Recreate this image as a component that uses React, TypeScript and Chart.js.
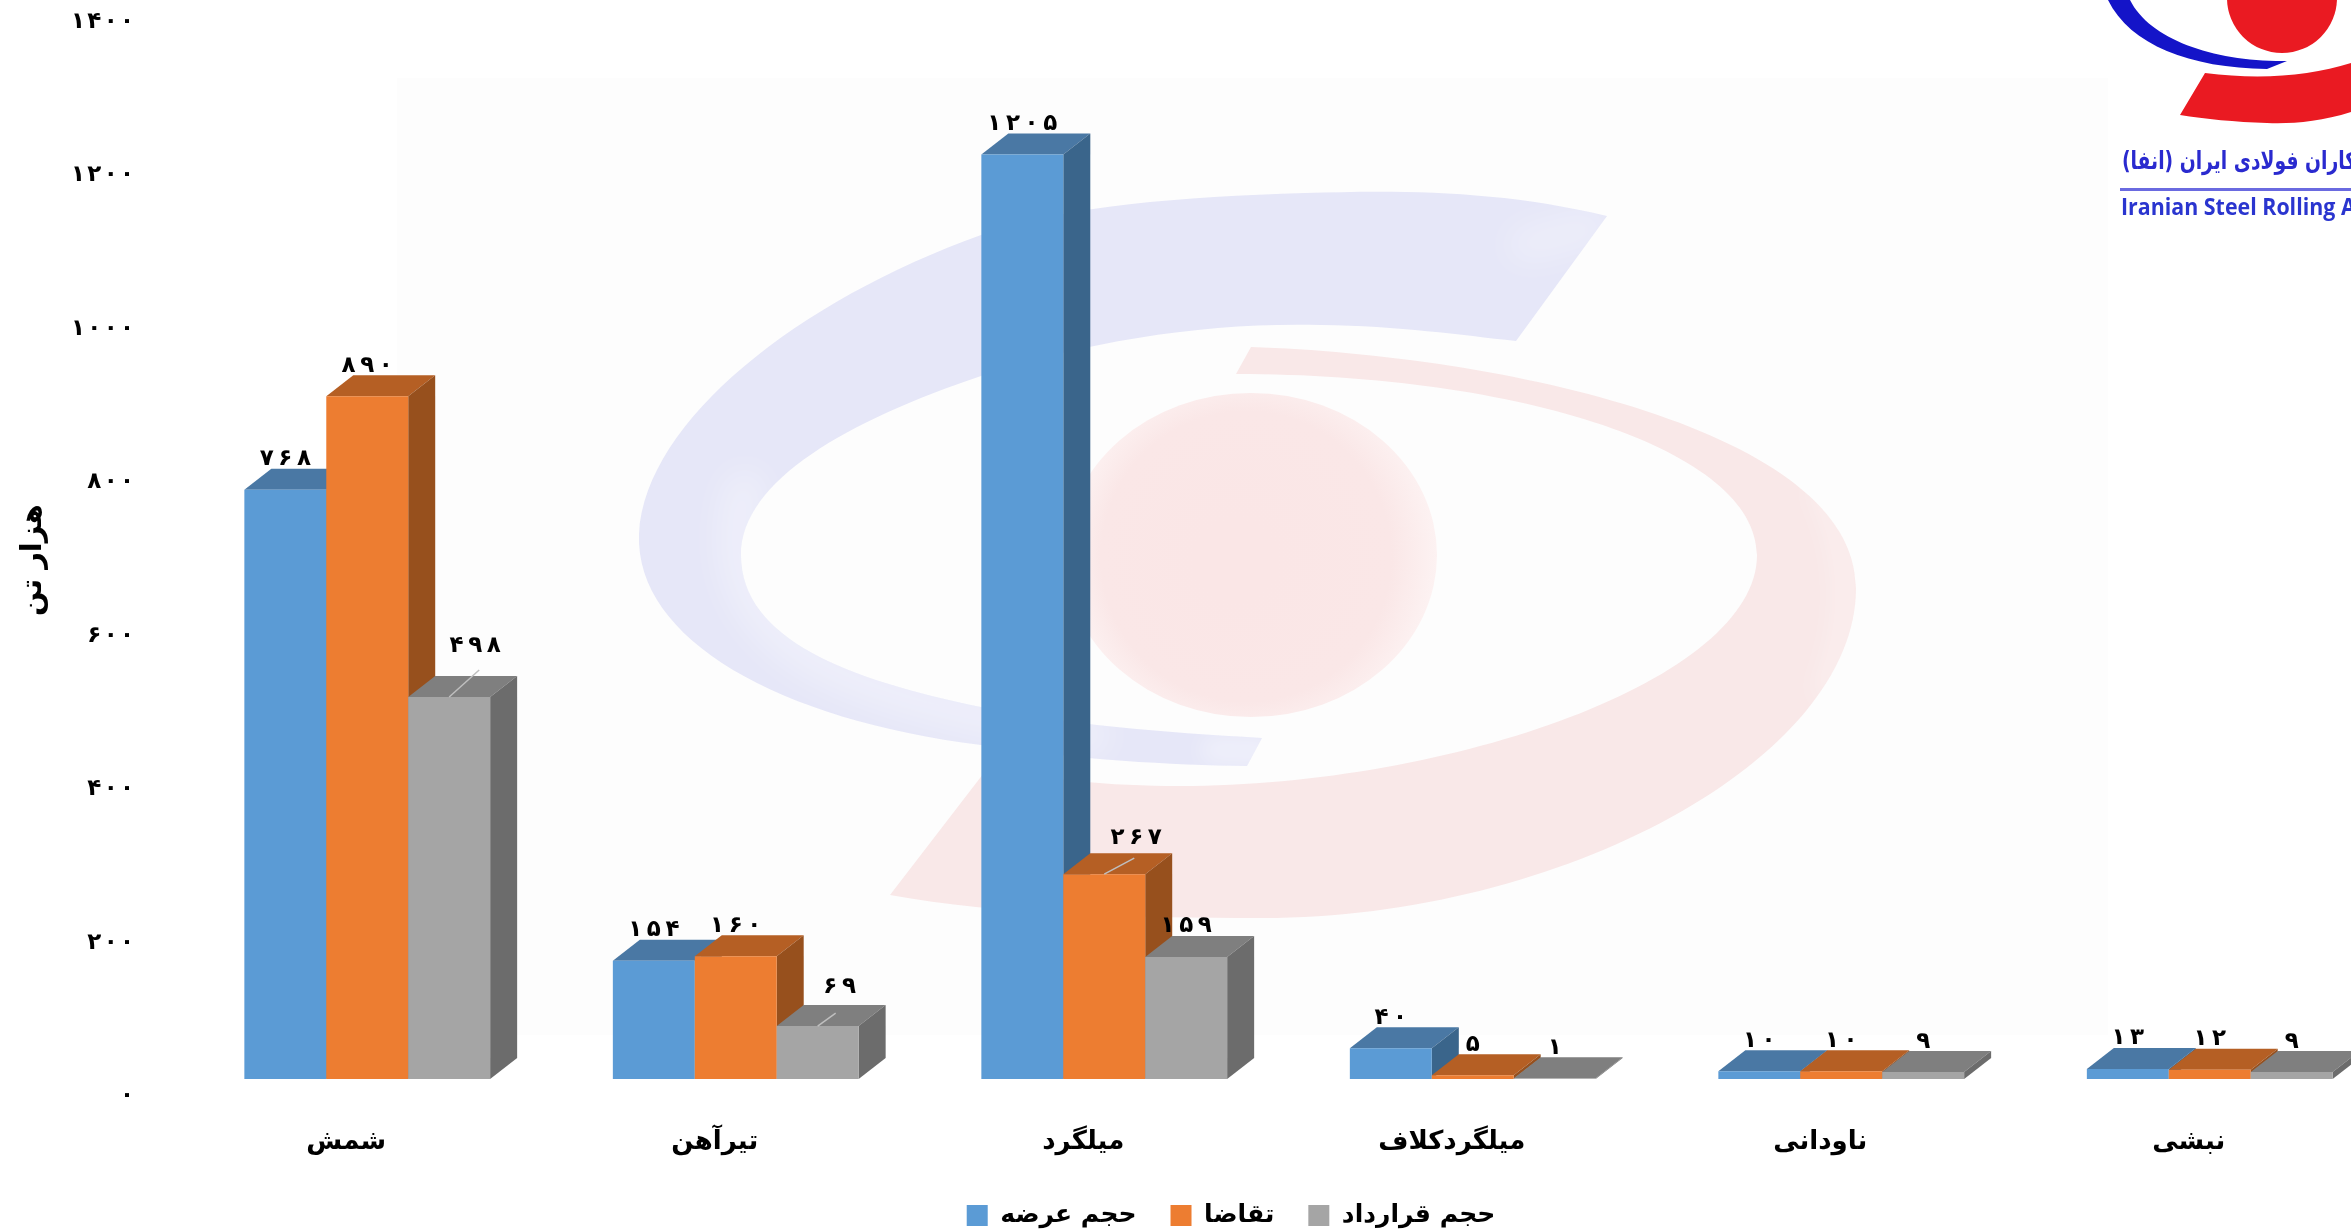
import React, { useEffect, useRef } from "react";
import { Chart, registerables } from "chart.js";

Chart.register(...registerables);

const categories = ["شمش", "تیرآهن", "میلگرد", "میلگردکلاف", "ناودانی", "نبشی"];
const supplyValues = [768, 154, 1205, 40, 10, 13];
const demandValues = [890, 160, 267, 5, 10, 12];
const contractValues = [498, 69, 159, 1, 9, 9];
const seriesNames = ["حجم عرضه", "تقاضا", "حجم قرارداد"];
const yTicks = [0, 200, 400, 600, 800, 1000, 1200, 1400];
const yTitle = "هزار تن";

const frontColors = ["#5B9BD5", "#ED7D31", "#A5A5A5"];
const topColors = ["#4A78A4", "#B55F24", "#7F7F7F"];
const sideColors = ["#3A658B", "#97501D", "#6C6C6C"];

const DEPTH_X = 27;
const DEPTH_Y = 21;
const FONT = '"DejaVu Sans"';

// Labels pulled away from their bar, joined to it by a thin leader line: [series, category, labelDx, labelDy, lineDx, lineDy]
const leaderLabels = [
  [2, 0, 26, -20, 30, -27],
  [2, 1, 22, -9, 18, -13],
  [1, 2, 32, -6, 30, -16],
];

// Persian digits, spaced apart the way the reference sets them (canvas letterSpacing is ignored for this script).
const toFa = (n: number | string, gap: string) =>
  String(n)
    .replace(/\d/g, (d) => "۰۱۲۳۴۵۶۷۸۹"[Number(d)])
    .split("")
    .join(gap);

function poly(ctx: CanvasRenderingContext2D, pts: number[][], color: string) {
  ctx.fillStyle = color;
  ctx.beginPath();
  pts.forEach(([x, y], i) => (i ? ctx.lineTo(x, y) : ctx.moveTo(x, y)));
  ctx.closePath();
  ctx.fill();
}

function highlight(ctx: CanvasRenderingContext2D, clip: Path2D, d: string, width: number, blur: number, alpha: number) {
  ctx.save();
  ctx.clip(clip);
  ctx.filter = `blur(${blur}px)`;
  ctx.strokeStyle = `rgba(255,255,255,${alpha})`;
  ctx.lineWidth = width;
  ctx.lineCap = "round";
  ctx.stroke(new Path2D(d));
  ctx.restore();
}

function drawWatermark(ctx: CanvasRenderingContext2D) {
  ctx.save();
  ctx.fillStyle = "#FDFDFD";
  ctx.fillRect(397, 78, 1711, 957);

  const blue = new Path2D(
    "M1607,216 C1500,190 1400,190 1305,193 C1180,197 1070,205 981,235 C800,300 645,420 639,534 C635,640 780,720 981,745 C1080,760 1170,765 1247,766 L1262,738 C1160,732 1070,725 981,707 C850,680 741,640 741,555 C741,480 850,420 981,376 C1090,340 1210,322 1321,325 C1400,326 1460,335 1516,341 Z"
  );
  ctx.fillStyle = "#E6E7F8";
  ctx.fill(blue);
  highlight(ctx, blue, "M745,490 C725,560 745,610 800,650 C860,690 960,715 1090,735", 40, 16, 0.35);
  highlight(ctx, blue, "M1262,752 L1215,750", 30, 10, 0.35);
  highlight(ctx, blue, "M1590,228 L1525,245", 36, 16, 0.3);

  const red = new Path2D(
    "M1251,347 C1500,355 1856,430 1856,588 C1856,760 1560,918 1263,918 C1130,918 1000,915 890,895 L990,765 C1040,780 1110,786 1180,786 C1450,786 1757,680 1757,555 C1757,450 1520,374 1236,374 Z"
  );
  ctx.fillStyle = "#F9E8E8";
  ctx.fill(red);
  highlight(ctx, red, "M1820,490 C1850,550 1855,620 1825,690", 24, 12, 0.3);

  const g = ctx.createRadialGradient(1235, 560, 40, 1251, 555, 190);
  g.addColorStop(0, "#FAE6E6");
  g.addColorStop(0.7, "#FAE7E7");
  g.addColorStop(1, "#FDF3F3");
  ctx.fillStyle = g;
  ctx.beginPath();
  ctx.ellipse(1251, 555, 186, 162, 0, 0, Math.PI * 2);
  ctx.fill();
  ctx.restore();
}

function drawLogo(ctx: CanvasRenderingContext2D) {
  ctx.save();
  ctx.fillStyle = "#1414C8";
  ctx.fill(new Path2D("M2108,0 C2130,45 2190,68 2267,69 L2287,61 C2215,62 2150,40 2130,0 Z"));
  ctx.fillStyle = "#EA1A22";
  ctx.beginPath();
  ctx.ellipse(2282, -2, 55, 55, 0, 0, Math.PI * 2);
  ctx.fill();
  ctx.fill(new Path2D("M2205,73 C2260,80 2310,76 2351,63 L2351,112 C2320,122 2290,124 2267,123 C2235,122 2205,119 2180,115 Z"));
  ctx.fillStyle = "#2A2ACF";
  ctx.textBaseline = "middle";
  ctx.textAlign = "left";
  ctx.save();
  ctx.font = `bold 25px ${FONT}`;
  ctx.translate(2122, 162);
  ctx.scale(0.75, 1);
  ctx.direction = "rtl";
  ctx.fillText("انجمن نوردکاران فولادی ایران (انفا)", 0, 0);
  ctx.restore();
  ctx.fillStyle = "#6A6AE0";
  ctx.fillRect(2120, 188, 300, 3);
  ctx.fillStyle = "#2A35CF";
  ctx.translate(2121, 208);
  ctx.scale(0.93, 1);
  ctx.font = 'bold 23px "Open Sans"';
  ctx.fillText("Iranian Steel Rolling Association", 0, 0);
  ctx.restore();
}

const bars3d = {
  id: "bars3d",
  beforeDraw(chart: any) {
    drawWatermark(chart.ctx);
    drawLogo(chart.ctx);
  },
  beforeDatasetDraw() {
    return false;
  },
  afterDatasetsDraw(chart: any) {
    const ctx = chart.ctx as CanvasRenderingContext2D;
    const n = chart.data.datasets.length;
    for (let s = 0; s < n; s++) {
      const meta = chart.getDatasetMeta(s);
      meta.data.forEach((b: any) => {
        const l = b.x - b.width / 2;
        const r = b.x + b.width / 2;
        poly(ctx, [[l, b.y], [l + DEPTH_X, b.y - DEPTH_Y], [r + DEPTH_X, b.y - DEPTH_Y], [r, b.y]], topColors[s]);
        poly(ctx, [[r, b.y], [r + DEPTH_X, b.y - DEPTH_Y], [r + DEPTH_X, b.base - DEPTH_Y], [r, b.base]], sideColors[s]);
      });
      meta.controller.draw();
    }
    ctx.save();
    ctx.font = `bold 23px ${FONT}`;
    ctx.textAlign = "center";
    ctx.textBaseline = "middle";
    for (let s = 0; s < n; s++) {
      const meta = chart.getDatasetMeta(s);
      meta.data.forEach((b: any, c: number) => {
        const lead = leaderLabels.find((q) => q[0] === s && q[1] === c);
        if (lead) {
          ctx.strokeStyle = "#BFBFBF";
          ctx.lineWidth = 1.5;
          ctx.beginPath();
          ctx.moveTo(b.x, b.y);
          ctx.lineTo(b.x + lead[4], b.y + lead[5]);
          ctx.stroke();
        }
        ctx.fillStyle = "#000";
        ctx.fillText(
          toFa(chart.data.datasets[s].data[c], "\u2009"),
          b.x + (lead ? lead[2] : 0),
          b.y - 30.5 + (lead ? lead[3] : 0)
        );
      });
    }
    ctx.restore();
  },
};

function wrapY(scale: any) {
  if (scale.__wrapped) return;
  scale.__wrapped = true;
  const title = scale.drawTitle.bind(scale);
  scale.drawTitle = (a: any) => {
    const ctx = scale.ctx;
    ctx.save();
    ctx.translate(-68, 18);
    title(a);
    ctx.restore();
  };
}

export default function App() {
  const ref = useRef<HTMLCanvasElement>(null);
  useEffect(() => {
    const values = [supplyValues, demandValues, contractValues];
    const chart = new Chart(ref.current!, {
      type: "bar",
      data: {
        labels: categories,
        datasets: seriesNames.map((name, i) => ({
          label: name,
          data: values[i],
          backgroundColor: frontColors[i],
          borderWidth: 0,
          barPercentage: 1,
          categoryPercentage: 0.667,
        })),
      },
      plugins: [bars3d],
      options: {
        responsive: false,
        animation: false,
        maintainAspectRatio: false,
        layout: { padding: { left: 68, right: 68, top: 5, bottom: -6 } },
        plugins: {
          tooltip: { enabled: false },
          title: { display: false },
          legend: {
            position: "bottom",
            labels: {
              boxWidth: 21,
              boxHeight: 21,
              padding: 34,
              color: "#000",
              font: { family: FONT, size: 25, weight: "bold" },
            },
          },
        },
        scales: {
          x: {
            grid: { display: false, drawTicks: false },
            border: { display: false },
            ticks: {
              color: "#000",
              maxRotation: 0,
              autoSkip: false,
              labelOffset: -21,
              padding: 48,
              font: { family: FONT, size: 26, weight: "bold" },
            },
            afterFit: (s: any) => {
              s.height = 90;
              s.paddingLeft = 0;
              s.paddingRight = 0;
            },
          },
          y: {
            min: 0,
            max: 1400,
            grid: { display: false, drawTicks: false },
            border: { display: false },
            afterBuildTicks: (s: any) => {
              s.ticks = yTicks.map((value) => ({ value }));
            },
            ticks: {
              color: "#000",
              padding: 49,
              labelOffset: 17,
              font: { family: FONT, size: 23, weight: "bold" },
              callback: (v: any) => toFa(v, "\u200A"),
            },
            title: {
              display: true,
              text: yTitle,
              color: "#000",
              padding: { top: 16, bottom: 0 },
              font: { family: FONT, size: 29, weight: "bold" },
            },
            afterFit: (s: any) => {
              s.width = 115;
              s.paddingTop = 0;
              s.paddingBottom = 0;
            },
            afterUpdate: wrapY,
          },
        },
      },
    } as any);
    return () => chart.destroy();
  }, []);
  return (
    <div style={{ position: "fixed", left: 0, top: 0, width: "100vw", height: "100vh", overflow: "hidden", background: "#fff" }}>
      <canvas ref={ref} width={2462} height={1232} style={{ display: "block" }} />
    </div>
  );
}
